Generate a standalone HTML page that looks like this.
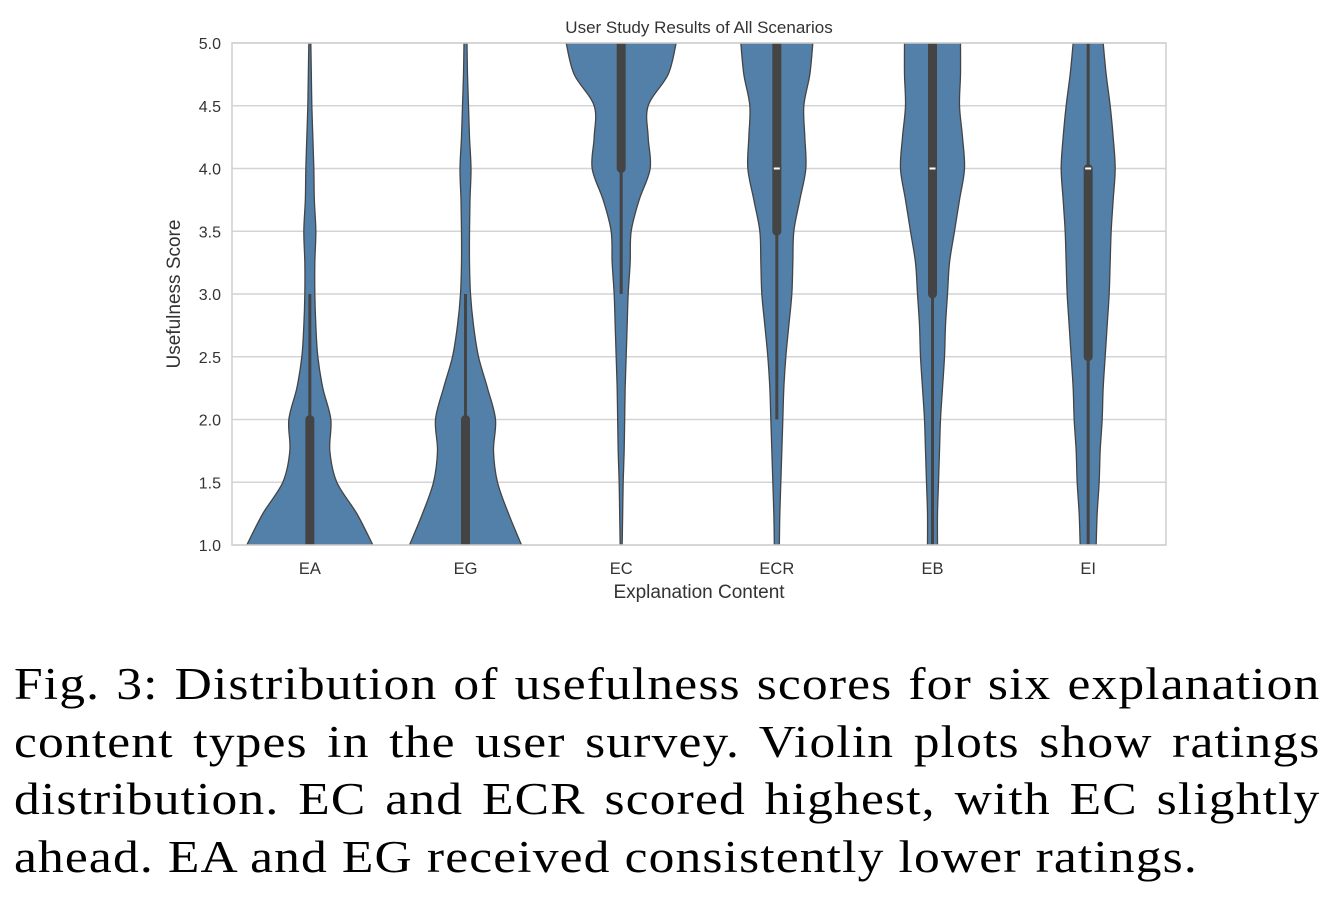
<!DOCTYPE html>
<html><head><meta charset="utf-8">
<style>
body{margin:0;background:#fff;width:1338px;height:924px;overflow:hidden;position:relative}
#chart{position:absolute;left:0;top:0}
.cap{position:absolute;left:14px;width:1141px;font-family:"Liberation Serif",serif;font-size:45px;letter-spacing:1px;color:#000;line-height:57.5px;white-space:nowrap;transform:scaleX(1.145);transform-origin:0 0}
.j{text-align:justify;text-align-last:justify}
</style></head><body>
<svg id="chart" width="1338" height="620" xmlns="http://www.w3.org/2000/svg" font-family="Liberation Sans, sans-serif"></svg>
<div class="cap j" style="top:656px">Fig. 3: Distribution of usefulness scores for six explanation</div>
<div class="cap j" style="top:714px">content types in the user survey. Violin plots show ratings</div>
<div class="cap j" style="top:771px">distribution. EC and ECR scored highest, with EC slightly</div>
<div class="cap" style="top:829px">ahead. EA and EG received consistently lower ratings.</div>
<script>
const categories=["EA","EG","EC","ECR","EB","EI"];
const levels=[1,1.25,1.5,1.75,2,2.25,2.5,2.75,3,3.25,3.5,3.75,4,4.25,4.5,4.75,5];
const halfEA=[63,47,27,20,21,13,8,6,5,5,6,4.5,4,3,2,1.5,1];
const halfEG=[56,43,32,28,30,22,13,8,5,4,4,4.5,5.5,4,3,2,1.5];
const halfEC=[1,1.5,2,3,3.5,4,5,6,7,9,10,18,29,27,27,47,55];
const halfECR=[2.5,3,4,5,6,7,9,12,15,16,17,23,29,28,27,33,36];
const halfEB=[5,5,6,7,8,10,12,13,15,17,22,27,32,30,27,28,28];
const halfEI=[8,9,11,12,14,15,17,19,21,22,23,25,27,25,22,18,15];
const halves=[halfEA,halfEG,halfEC,halfECR,halfEB,halfEI];
const q1=[1,1,4,3.5,3,2.5];
const q3=[2,2,5,5,5,4];
const whiskLo=[1,1,3,2,1,1];
const whiskHi=[3,3,5,5,5,5];
const medians=[null,null,null,4,4,4];
const yTicks=[1.0,1.5,2.0,2.5,3.0,3.5,4.0,4.5,5.0];

const NS="http://www.w3.org/2000/svg";
const svg=document.getElementById('chart');
const L=232,R=1166,T=43,B=545,yMin=1,yMax=5;
const y=v=>B-(v-yMin)/(yMax-yMin)*(B-T);
const band=(R-L)/categories.length;
const x=i=>L+band*(i+0.5);
const wScale=1;
function mk(tag,attrs,parent){const e=document.createElementNS(NS,tag);for(const k in attrs)e.setAttribute(k,attrs[k]);(parent||svg).appendChild(e);return e;}

const defs=mk('defs',{});
const cp=mk('clipPath',{id:'pc'},defs);
mk('rect',{x:L,y:T,width:R-L,height:B-T},cp);

yTicks.forEach(t=>{
  const g=mk('line',{x1:L,x2:R,y1:y(t),y2:y(t),stroke:'#d4d4d4','stroke-width':1.5});
  
  
  const tx=mk('text',{x:L-11,y:y(t)+6,'text-anchor':'end','font-size':16,fill:'#333'});
  tx.textContent=t.toFixed(1);
  
  
});

function catmull(pts){
  let d='';
  for(let i=0;i<pts.length-1;i++){
    const p0=pts[Math.max(0,i-1)],p1=pts[i],p2=pts[i+1],p3=pts[Math.min(pts.length-1,i+2)];
    const c1=[p1[0]+(p2[0]-p0[0])/6,p1[1]+(p2[1]-p0[1])/6];
    const c2=[p2[0]-(p3[0]-p1[0])/6,p2[1]-(p3[1]-p1[1])/6];
    d+=` C${c1[0]},${c1[1]} ${c2[0]},${c2[1]} ${p2[0]},${p2[1]}`;
  }
  return d;
}
const gV=mk('g',{'clip-path':'url(#pc)'});
categories.forEach((c,i)=>{
  const cx=x(i),h=halves[i];
  const right=levels.map((lv,k)=>[cx+h[k]*wScale,y(lv)]);
  const left=levels.map((lv,k)=>[cx-h[k]*wScale,y(lv)]).reverse();
  let d=`M${right[0][0]},${right[0][1]}`+catmull(right)+` L${left[0][0]},${left[0][1]}`+catmull(left)+'Z';
  const p=mk('path',{d,fill:'#5380a9',stroke:'#444','stroke-width':1.3},gV);
  
  
  const w=mk('line',{x1:cx,x2:cx,y1:y(whiskLo[i]),y2:y(whiskHi[i]),stroke:'#444','stroke-width':3},gV);
  
  
  const b=mk('line',{x1:cx,x2:cx,y1:y(q1[i]),y2:y(q3[i]),stroke:'#444','stroke-width':9,'stroke-linecap':'round'},gV);
  
  
  if(medians[i]!==null){
    const m=mk('line',{x1:cx-3,x2:cx+3,y1:y(medians[i]),y2:y(medians[i]),stroke:'#fff','stroke-width':2},gV);
    
    
  }
  const t=mk('text',{x:cx,y:574,'text-anchor':'middle','font-size':16.5,fill:'#333'});
  t.textContent=c;
  
  
});
const fr=mk('rect',{x:L,y:T,width:R-L,height:B-T,fill:'none',stroke:'#cfcfcf','stroke-width':1.5});


const ti=mk('text',{x:(L+R)/2,y:33,'text-anchor':'middle','font-size':17,fill:'#333'});
ti.textContent='User Study Results of All Scenarios';


const xl=mk('text',{x:(L+R)/2,y:598,'text-anchor':'middle','font-size':19,fill:'#333'});
xl.textContent='Explanation Content';


const yl=mk('text',{x:0,y:0,'text-anchor':'middle','font-size':19,fill:'#333',transform:`translate(180,${(T+B)/2}) rotate(-90)`});
yl.textContent='Usefulness Score';


</script>
</body></html>
